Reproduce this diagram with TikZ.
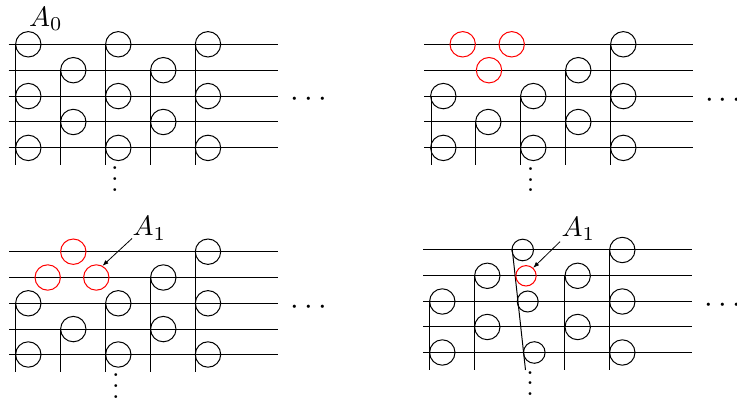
\documentclass[tikz,border=0pt]{standalone}
\usetikzlibrary{arrows.meta,calc}
\begin{document}
\begin{tikzpicture}[x=1pt,y=-1pt,
  wire/.style={line width=1pt},
  ring/.style={draw, circle, line width=1pt, minimum size=25.4pt, inner sep=0pt},
  smallring/.style={ring, minimum size=21.6pt},
  hot/.style={ring, draw=red},
  lbl/.style={inner sep=0pt, scale=2.8, anchor=base west},
  arr/.style={line width=0.8pt, -{Latex[length=6pt,width=4.5pt]}},
  hdots/.style={inner sep=0pt, scale=3.1},
  vdotsn/.style={inner sep=0pt, scale=2.7, anchor=base}]
\useasboundingbox (0,0) rectangle (737,403);

% ---------------- Panel 1 (top left)
\foreach \y in {44.3,70.2,96.1,122,147.9} \draw[wire] (8.5,\y) -- (278,\y);
\foreach \x/\y in {15/44.3,60/70.2,105/44.3,150/70.2,195/44.3} \draw[wire] (\x,\y) -- (\x,165);
\foreach \x/\y [count=\k] in {28.3/44.3,28.3/96.1,28.3/147.9,73.3/70.2,73.3/122,
  118.3/44.3,118.3/96.1,118.3/147.9,163.3/70.2,163.3/122,208/44.3,208/96.1,208/147.9}
  \node[ring] (pa\k) at (\x,\y) {};
\node[lbl] (A0) at (28.5,26.5) {$A_0$};
\node[hdots] (ha) at (309,100) {$\cdots$};
\node[vdotsn] (va) at (115,191.4) {$\vdots$};

% ---------------- Panel 2 (top right)
\foreach \y in {44.3,70.2,96.1,122,147.9} \draw[wire] (424,\y) -- (693,\y);
\foreach \x/\y in {431/96.1,475.7/122,520.3/96.1,565.3/70.2,610/44.3} \draw[wire] (\x,\y) -- (\x,165);
\foreach \x/\y [count=\k] in {443.3/96.1,443.3/147.9,488.3/122,533.3/96.1,533.3/147.9,
  578.3/70.2,578.3/122,623.3/44.3,623.3/96.1,623.3/147.9}
  \node[ring] (pb\k) at (\x,\y) {};
\foreach \x/\y [count=\k] in {462.7/44.3,511.7/44.3,489/70.2}
  \node[hot] (rb\k) at (\x,\y) {};
\node[hdots] (hb) at (723.3,100.3) {$\cdots$};
\node[vdotsn] (vb) at (530.7,192) {$\vdots$};

% ---------------- Panel 3 (bottom left)
\foreach \y in {251.7,277.5,303.3,329.1,354.5} \draw[wire] (9,\y) -- (278,\y);
\foreach \x/\y in {15/303.3,60/329.1,105/303.3,150/277.5,195/251.7} \draw[wire] (\x,\y) -- (\x,372);
\foreach \x/\y [count=\k] in {28.3/303.3,28.3/354.5,73.3/329.1,118.3/303.3,118.3/354.5,
  163.3/277.5,163.3/329.1,208/251.7,208/303.3,208/354.5}
  \node[ring] (pc\k) at (\x,\y) {};
\node[hot] (rc1) at (73.3,251.7) {};
\node[hot] (rc2) at (47.7,277.5) {};
\node[hot] (rc3) at (96.3,277.5) {};
\node[lbl] (A1c) at (132,236) {$A_1$};
\draw[arr] ($(A1c.base west)+(0,2.5)$) -- (rc3.62);
\node[hdots] (hc) at (309,307.3) {$\cdots$};
\node[vdotsn] (vc) at (116,398.4) {$\vdots$};

% ---------------- Panel 4 (bottom right)
\foreach \y in {250,275.8,301.5,327,352.5} \draw[wire] (423.3,\y) -- (692.3,\y);
\foreach \x/\y in {429.3/301.5,474.3/275.8,564.3/275.8,609.3/250} \draw[wire] (\x,\y) -- (\x,370);
\coordinate (st) at (512.3,250);
\coordinate (sb) at (525.5,370);
\draw[wire] (st) -- (sb);
\foreach \x/\y [count=\k] in {442.3/301.5,442.3/352.5,487.3/275.8,487.3/327,
  577.7/275.8,577.7/327,622.3/250,622.3/301.5,622.3/352.5}
  \node[ring] (pd\k) at (\x,\y) {};
\node[smallring] (sd1) at (522.7,250) {};
\node[smallring, draw=red, minimum size=20.4pt] (rd1) at (526,275.8) {};
\node[smallring, minimum size=21pt] (sd2) at (527.7,301.5) {};
\node[smallring] (sd3) at (534.3,352.5) {};
\node[lbl] (A1d) at (561,236.7) {$A_1$};
\draw[arr] ($(A1d.base west)+(-1,5)$) -- (rd1.48);
\node[hdots] (hd) at (723,306) {$\cdots$};
\node[vdotsn] (vd) at (530,395.7) {$\vdots$};
\end{tikzpicture}
\end{document}
